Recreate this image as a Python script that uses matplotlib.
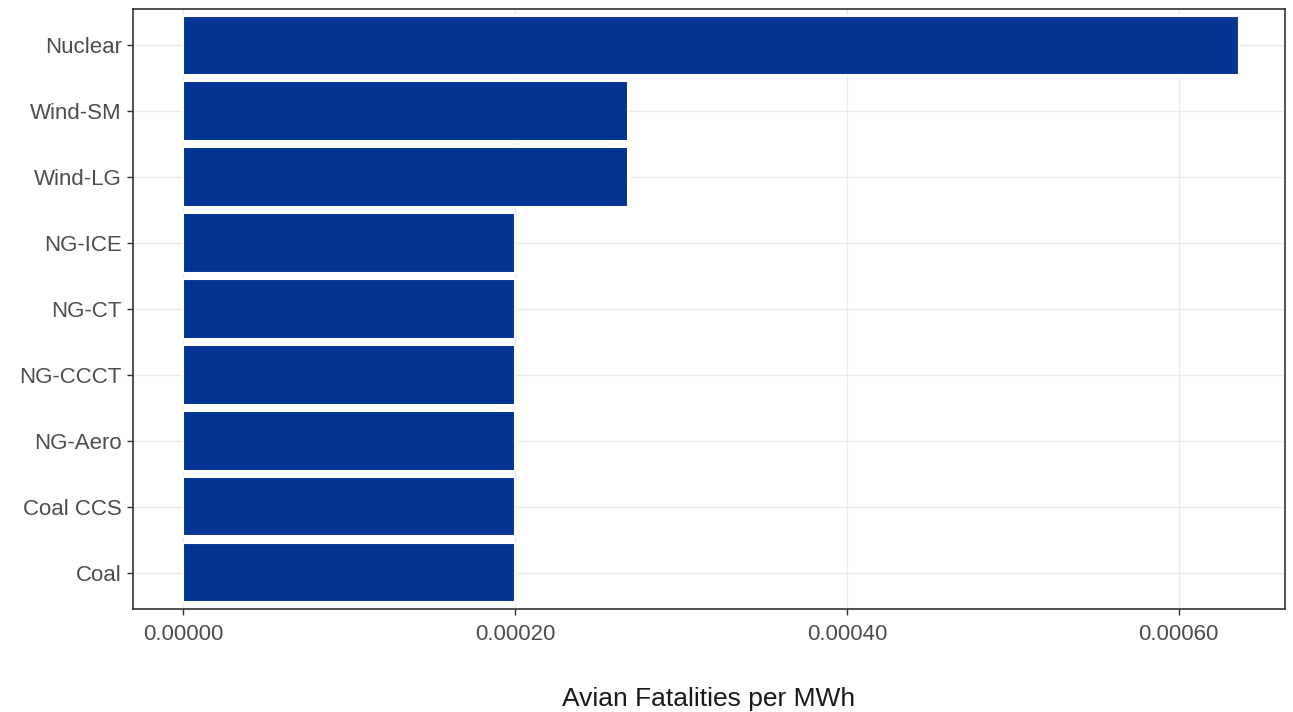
import matplotlib
matplotlib.use('Agg')
import matplotlib.pyplot as plt
import numpy as np

plt.rcParams['font.family'] = ['Liberation Sans', 'DejaVu Sans']

# data (bottom to top)
techs = ['Coal', 'Coal CCS', 'NG-Aero', 'NG-CCCT', 'NG-CT', 'NG-ICE', 'Wind-LG', 'Wind-SM', 'Nuclear']
fatalities = [0.0002, 0.0002, 0.0002, 0.0002, 0.0002, 0.0002, 0.000268, 0.000268, 0.000636]
xticks = [0.0, 0.0002, 0.0004, 0.0006]
xticklabels = ['0.00000', '0.00020', '0.00040', '0.00060']

fig = plt.figure(figsize=(12.93, 7.12), dpi=100)
ax = fig.add_axes([0.1029, 0.1447, 0.8909, 0.8427])

ypos = np.arange(len(techs))
ax.barh(ypos, fatalities, height=0.9, color='#023494', edgecolor='white', linewidth=1.5, zorder=3)

ax.set_yticks(ypos)
ax.set_yticklabels(techs)
ax.set_xticks(xticks)
ax.set_xticklabels(xticklabels)
ax.set_ylim(-0.55, len(techs) - 0.45)
ax.set_xlim(-0.0000301, 0.000664)

ax.grid(True, color='#ebebeb', linewidth=1.0, zorder=0)
for s in ax.spines.values():
	s.set_color('#333333')
	s.set_linewidth(1.2)
ax.tick_params(axis='both', colors='#333333', length=4, width=1, labelsize=16, labelcolor='#4d4d4d')
ax.tick_params(axis='y', pad=4)
ax.tick_params(axis='x', pad=7)

ax.set_xlabel('Avian Fatalities per MWh', fontsize=19, color='#1a1a1a', labelpad=30)

fig.savefig('out.png', dpi=100)
